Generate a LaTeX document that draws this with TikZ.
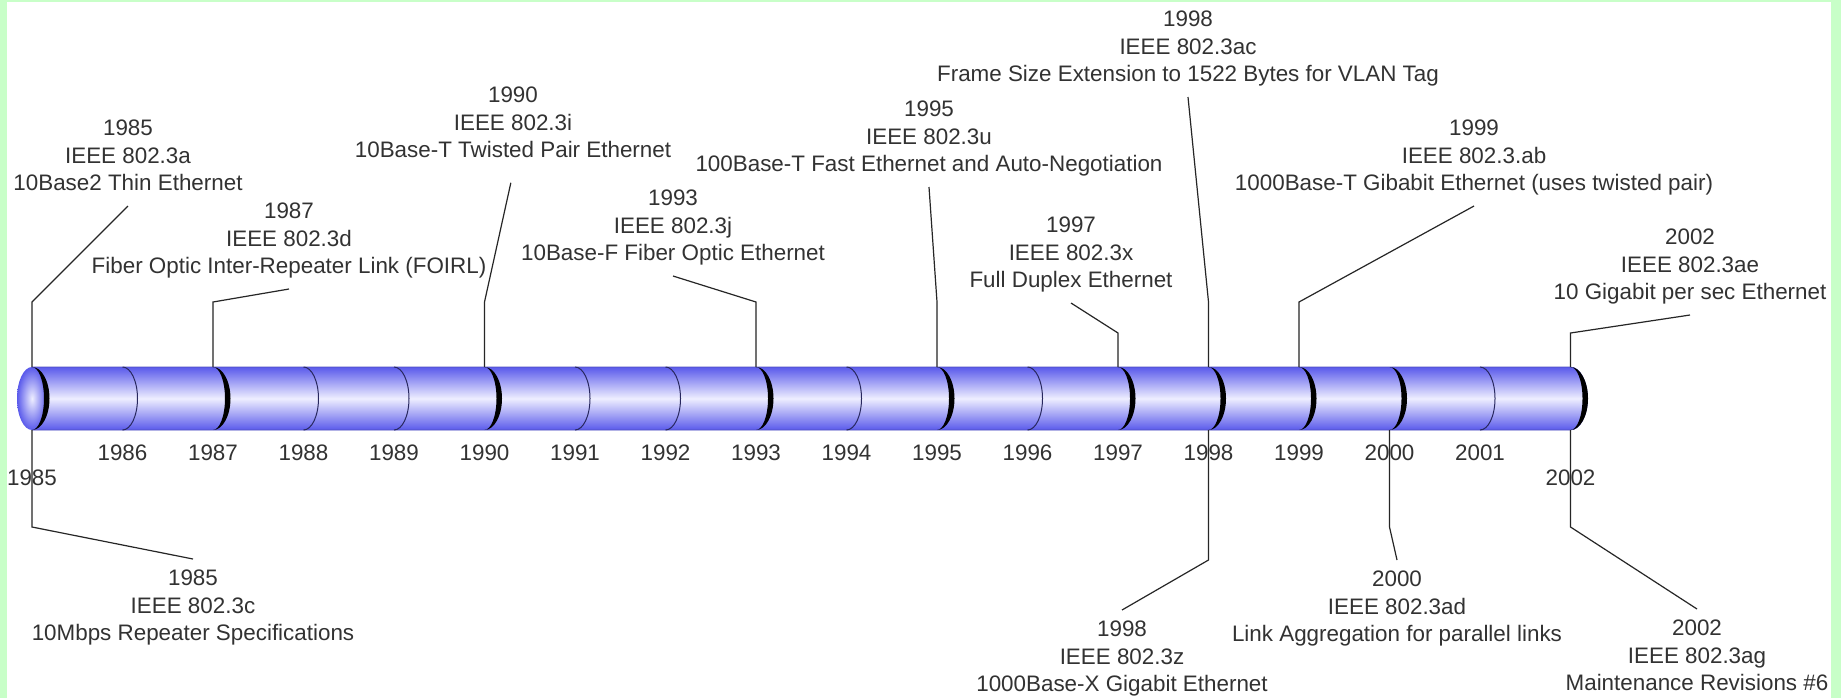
\documentclass[tikz,border=0pt]{standalone}
\usepackage{fontspec}
\setmainfont{Liberation Sans}
\usetikzlibrary{calc}
\definecolor{framegreen}{RGB}{200,255,200}
\definecolor{tubeblue}{RGB}{90,90,235}
\definecolor{tubelight}{RGB}{238,238,255}
\definecolor{tubeedge}{RGB}{80,80,190}
\definecolor{labelgray}{RGB}{50,50,50}

\begin{document}
\begin{tikzpicture}[
  x=0.5pt, y=-0.5pt,
  every node/.style={font=\fontsize{11.2}{13.75}\selectfont, text=labelgray},
  yearlabel/.style={inner sep=0pt},
  evtop/.style={align=center, anchor=south, inner sep=3.4pt, execute at begin node=\strut, execute at end node=\strut},
  evbot/.style={evtop, anchor=north, inner sep=5.4pt},
  leader/.style={draw=black!85, line width=0.6pt},
  minorring/.style={draw=tubeedge!50!black, line width=0.5pt},
  majorring/.style={fill=black},
]
\useasboundingbox (0,0) rectangle (1841,698);
\fill[framegreen] (0,0) rectangle (1841,698);
\fill[white] (7,2) rectangle (1831,698);

\foreach \yr in {1985,...,2002}{
  \pgfmathsetmacro{\xx}{32+90.5*(\yr-1985)}
  \coordinate (top\yr) at (\xx,367);
  \coordinate (bot\yr) at (\xx,430);
}
\coordinate (capc) at (32,398.5);
\coordinate (bendhi) at (0,302);
\coordinate (bendmid) at (0,333);
\coordinate (bendlo) at (0,527);
\coordinate (bendlow) at (0,560);

\shade[top color=tubeblue, bottom color=tubeblue, middle color=tubelight, draw=tubeedge, line width=0.3pt]
  (top1985) -- (top2002) arc[start angle=-90, end angle=90, x radius=17, y radius=31.5] -- (bot1985) -- cycle;
\shade[inner color=tubelight, outer color=tubeblue] (capc) ellipse[x radius=15, y radius=31.5];

\foreach \yr in {1986,1988,1989,1991,1992,1994,1996,2001}
  \draw[minorring] (top\yr) arc[start angle=-90, end angle=90, x radius=15, y radius=31.5];
\foreach \yr in {1985,1987,1990,1993,1995,1997,1998,1999,2000,2002}
  \fill[majorring] (top\yr) arc[start angle=-90, end angle=90, x radius=17.5, y radius=31.5]
    arc[start angle=90, end angle=-90, x radius=12, y radius=31.5] -- cycle;

\foreach \yr in {1986,...,2001}
  \node[yearlabel] (y\yr) at ($(bot\yr)+(0,23)$) {\yr};
\node[yearlabel] (y1985) at ($(bot1985)+(0,48)$) {1985};
\node[yearlabel] (y2002) at ($(bot2002)+(0,48)$) {2002};

\node[evtop] (ev85a) at (128,206) {1985\\IEEE 802.3a\\10Base2 Thin Ethernet};
\node[evtop] (ev87d) at (289,289) {1987\\IEEE 802.3d\\Fiber Optic Inter-Repeater Link (FOIRL)};
\node[evtop] (ev90i) at (513,173) {1990\\IEEE 802.3i\\10Base-T Twisted Pair Ethernet};
\node[evtop] (ev93j) at (673,276) {1993\\IEEE 802.3j\\10Base-F Fiber Optic Ethernet};
\node[evtop] (ev95u) at (929,187) {1995\\IEEE 802.3u\\100Base-T Fast Ethernet and Auto-Negotiation};
\node[evtop] (ev97x) at (1071,303) {1997\\IEEE 802.3x\\Full Duplex Ethernet};
\node[evtop] (ev98ac) at (1188,97) {1998\\IEEE 802.3ac\\Frame Size Extension to 1522 Bytes for VLAN Tag};
\node[evtop] (ev99ab) at (1474,206) {1999\\IEEE 802.3.ab\\1000Base-T Gibabit Ethernet (uses twisted pair)};
\node[evtop] (ev02ae) at (1690,315) {2002\\IEEE 802.3ae\\10 Gigabit per sec Ethernet};

\node[evbot] (ev85c) at (193,559) {1985\\IEEE 802.3c\\10Mbps Repeater Specifications};
\node[evbot] (ev98z) at (1122,610) {1998\\IEEE 802.3z\\1000Base-X Gigabit Ethernet};
\node[evbot] (ev00ad) at (1397,560) {2000\\IEEE 802.3ad\\Link Aggregation for parallel links};
\node[evbot] (ev02ag) at (1697,609) {2002\\IEEE 802.3ag\\Maintenance Revisions \#6};

\foreach \yr/\ev/\bend/\gap in {1985/ev85a/bendhi/0pt, 1987/ev87d/bendhi/0pt, 1990/ev90i/bendhi/5pt,
    1993/ev93j/bendhi/0pt, 1995/ev95u/bendhi/0pt, 1997/ev97x/bendmid/0pt, 1998/ev98ac/bendhi/0pt,
    1999/ev99ab/bendhi/0pt, 2002/ev02ae/bendmid/0pt}
  \draw[leader, shorten >=\gap] (top\yr) -- (top\yr |- \bend) -- (\ev.south);
\foreach \yr/\ev/\bend in {1985/ev85c/bendlo, 1998/ev98z/bendlow, 2000/ev00ad/bendlo, 2002/ev02ag/bendlo}
  \draw[leader] (bot\yr) -- (bot\yr |- \bend) -- (\ev.north);
\end{tikzpicture}
\end{document}
